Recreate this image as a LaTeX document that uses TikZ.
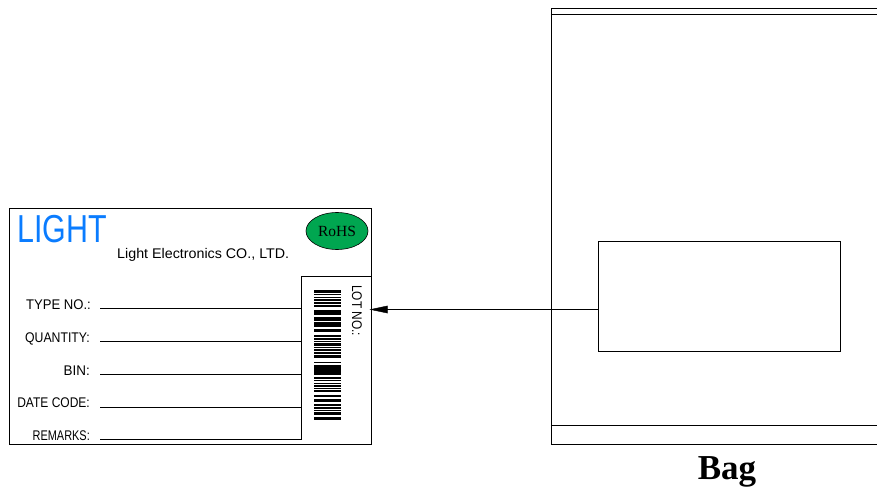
\documentclass[tikz,border=0pt]{standalone}
\usepackage{fontspec}
\setmainfont{Liberation Sans}
\newfontfamily\serifface{Liberation Serif}
\usepackage[usenames,dvipsnames]{xcolor}
\usetikzlibrary{arrows.meta,shapes.geometric}
\definecolor{logoblue}{HTML}{0A7CFF}
\definecolor{rohsgreen}{HTML}{00A650}
\tikzset{
  fieldtext/.style={anchor=base east,inner sep=0pt,xscale=.85,font=\fontsize{14}{15}\selectfont},
  barline/.style={line width=#1}
}

\begin{document}
\begin{tikzpicture}[x=1pt,y=-1pt]

\useasboundingbox (0,0) rectangle (877,489);

% label
\coordinate (LA) at (8.8,208.5);
\coordinate (LB) at (370.8,444.5);
\coordinate (CA) at (301.5,276);
\coordinate (CB) at (301.5,439.5);
\draw[semithick] (LA) rectangle (LB);
\draw[semithick] (LB |- CA) -- (CA) -- (CB) -- (100,439.5);

\node[anchor=base west,text=logoblue,font=\fontsize{39}{40}\selectfont,xscale=.78,inner sep=0pt] (logo) at (17,242.5) {LIGHT};
\node[anchor=base west,font=\fontsize{14}{15}\selectfont,xscale=1.02,inner sep=0pt] (company) at (117,258) {Light Electronics CO., LTD.};
\node[draw,semithick,ellipse,fill=rohsgreen,minimum width=62pt,minimum height=37pt,inner sep=0pt,font=\serifface\fontsize{15.5}{16}\selectfont] (rohs) at (337,231) {RoHS};

\foreach \ypos in {308.5,341.5,374,407}
  \draw (100,\ypos) -- (301.5,\ypos);
\node[fieldtext,xscale=1.1] (type) at (91,309) {TYPE NO.:};
\node[fieldtext,xscale=1.03] (quantity) at (90,342) {QUANTITY:};
\node[fieldtext,xscale=1.13] (bin) at (90,375) {BIN:};
\node[fieldtext,xscale=1.01] (date) at (90,407) {DATE CODE:};
\node[fieldtext,xscale=.92] (remarks) at (90,440) {REMARKS:};

\node[rotate=-90,xscale=.85,anchor=base west,font=\fontsize{14}{15}\selectfont,inner sep=0pt] (lot) at (352,285) {LOT NO.:};

% barcode
\foreach \ypos/\wid in {291.5/2.6,294.5/1,297.3/1,300/1.2,303/1.2,306/1.2,
  312.5/4.5,318/1.5,320/1.2,324.5/4.5,330.5/3,336/2,
  339/1.2,341.5/1.2,344.5/2.4,347/.8,350/2.6,
  353/2.6,356/3,
  362.7/1.5,370/10.5,
  378/1.6,380.5/1.6,383/.8,386/1.6,388.5/1.6,391/1.4,
  396/2,400.5/2.4,
  405/2.4,408/2,410.5/1.4,413/3,
  418.2/2.6}
  \draw[barline=\wid pt] (314,\ypos) -- (341,\ypos);

% bag
\coordinate (BA) at (550.8,8.5);
\coordinate (BB) at (877,444.5);
\draw (877,8.5) -- (BA) -- (550.8,444.5) -- (BB);
\draw (550.8,14) -- (877,14);
\draw (550.8,425) -- (877,425);
\node[draw,minimum width=242pt,minimum height=110.5pt,inner sep=0pt,anchor=north west] (window) at (598,240.5) {};

\coordinate (tail) at (598,309.5);
\coordinate (head) at (369.5,309.5);
\draw[-{Triangle[length=18pt,width=7.5pt]}] (tail) -- (head);

\node[anchor=base,inner sep=0pt,font=\serifface\bfseries\fontsize{35}{36}\selectfont] (bag) at (727,479) {Bag};

\end{tikzpicture}
\end{document}
